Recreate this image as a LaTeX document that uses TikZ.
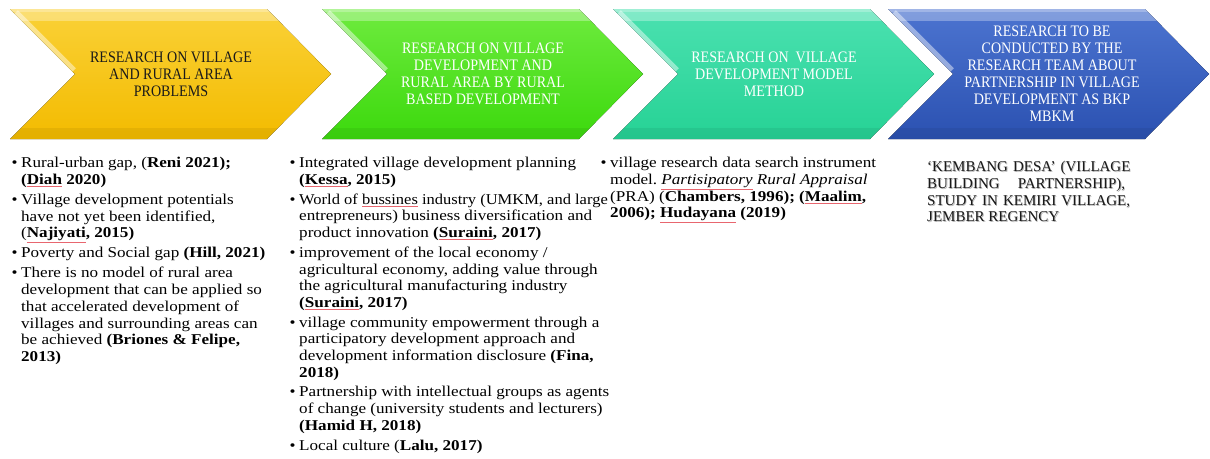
\documentclass[tikz,border=0pt]{standalone}
\usepackage{fontspec}
\setmainfont{Liberation Serif}[FakeStretch=1.14]
\newfontfamily\headfont{Liberation Serif}[FakeStretch=0.88]
\newfontfamily\capsfont{Liberation Serif}[FakeStretch=1.0]
\usepackage{xcolor}
\usepackage{graphicx}
\frenchspacing

% chevron fills
\definecolor{yelTop}{HTML}{FAD137}
\definecolor{yelBot}{HTML}{F3BB00}
\definecolor{grnTop}{HTML}{6EEB3E}
\definecolor{grnBot}{HTML}{3CD90D}
\definecolor{teaTop}{HTML}{4BE1B0}
\definecolor{teaBot}{HTML}{26D295}
\definecolor{bluTop}{HTML}{4C74D0}
\definecolor{bluBot}{HTML}{2B51B1}
\definecolor{inkDark}{HTML}{1A1A1A}
\definecolor{spell}{HTML}{E8666F}

% bullet, hanging indent, spell-check mark
\newcommand\itm{\makebox[9.5pt][l]{\textbullet}}
\newcommand\ind{\hspace*{9.5pt}}
\newcommand\sq[1]{{\color{spell}\underline{\color{black}#1}}}

% one chevron: #1 left x, #2 top colour, #3 bottom colour
\newcommand\chevpath[1]{(#1,9) -- ({#1+257},9) -- ({#1+321},74) -- ({#1+257},139) -- (#1,139) -- ({#1+65},74) -- cycle}
\newcommand\chevron[3]{%
  \fill[top color=#2,bottom color=#3] \chevpath{#1};
  \begin{scope}
    \clip \chevpath{#1};
    \fill[white,opacity=.30] (#1,9) rectangle ({#1+330},21);
    \fill[white,opacity=.25] (#1,9) rectangle ({#1+330},12);
    \draw[white,opacity=.45,line width=5pt] ({#1+6},12) -- ({#1+64},70);
    \fill[black,opacity=.06] (#1,128) rectangle ({#1+330},139);
  \end{scope}}

\begin{document}
\begin{tikzpicture}[x=1pt,y=-1pt,
  headtxt/.style={align=center,inner sep=0pt,
    font=\headfont\fontsize{16}{16.9}\selectfont},
  bodytxt/.style={align=left,inner sep=0pt,anchor=north west,
    font=\fontsize{15}{16.7}\selectfont},
  kdtxt/.style={align=left,inner sep=0pt,anchor=north west,
    font=\capsfont\fontsize{15}{16.7}\selectfont}]
\useasboundingbox[fill=white] (0,0) rectangle (1210,458);

% the four stage chevrons
\chevron{10}{yelTop}{yelBot}
\chevron{322}{grnTop}{grnBot}
\chevron{613}{teaTop}{teaBot}
\chevron{888}{bluTop}{bluBot}

\node[headtxt,text=inkDark] (h1) at (171,74.5)
  {RESEARCH ON VILLAGE\\AND RURAL AREA\\PROBLEMS};
\node[headtxt,text=white] (h2) at (483,73.5)
  {RESEARCH ON VILLAGE\\DEVELOPMENT AND\\RURAL AREA BY RURAL\\BASED DEVELOPMENT};
\node[headtxt,text=white] (h3) at (774,74.5)
  {RESEARCH ON\ \ VILLAGE\\DEVELOPMENT MODEL\\METHOD};
\node[headtxt,text=white] (h4) at (1052,73.5)
  {RESEARCH TO BE\\CONDUCTED BY THE\\RESEARCH TEAM ABOUT\\PARTNERSHIP IN VILLAGE\\DEVELOPMENT AS BKP\\MBKM};

% findings under each stage
\node[bodytxt] (c1) at (11.5,156) {%
\strut\itm Rural-urban gap, (\textbf{Reni 2021);}\\
\ind\textbf{(\sq{Diah} 2020)}\\[3.3pt]
\itm Village development potentials\\
\ind have not yet been identified,\\
\ind(\textbf{\sq{Najiyati}, 2015)}\\[3.3pt]
\itm Poverty and Social gap \textbf{(Hill, 2021)}\\[3.3pt]
\itm There is no model of rural area\\
\ind development that can be applied so\\
\ind that accelerated development of\\
\ind villages and surrounding areas can\\
\ind be achieved \textbf{(Briones \& Felipe,}\\
\ind\textbf{2013)}};

\node[bodytxt] (c2) at (289.5,156) {%
\strut\itm Integrated village development planning\\
\ind\textbf{(\sq{Kessa}, 2015)}\\[3pt]
\itm \scalebox{0.965}[1]{World of \sq{bussines} industry (UMKM, and large}\\
\ind entrepreneurs) business diversification and\\
\ind product innovation \textbf{(\sq{Suraini}, 2017)}\\[3pt]
\itm improvement of the local economy /\\
\ind agricultural economy, adding value through\\
\ind the agricultural manufacturing industry\\
\ind\textbf{(\sq{Suraini}, 2017)}\\[3pt]
\itm village community empowerment through a\\
\ind participatory development approach and\\
\ind development information disclosure \textbf{(Fina,}\\
\ind\textbf{2018)}\\[3pt]
\itm Partnership with intellectual groups as agents\\
\ind of change (university students and lecturers)\\
\ind\textbf{(Hamid H, 2018)}\\[3pt]
\itm Local culture (\textbf{Lalu, 2017)}};

\node[bodytxt] (c3) at (600.5,156) {%
\strut\itm village research data search instrument\\
\ind model. \textit{\sq{Partisipatory} Rural Appraisal}\\
\ind(PRA) (\textbf{Chambers, 1996); (\sq{Maalim},}\\
\ind\textbf{2006); \sq{Hudayana} (2019)}};

% outcome, with a soft text shadow
\newcommand\kdlines{%
\strut\makebox[198pt][s]{‘KEMBANG\ \ DESA’\ \ (VILLAGE}\\
\makebox[198pt][s]{BUILDING PARTNERSHIP),}\\
\makebox[198pt][s]{STUDY\ \ IN\ \ KEMIRI\ \ VILLAGE,}\\
JEMBER REGENCY}
\node[kdtxt,text=black!30] (c4s) at (927.8,160.8) {\kdlines};
\node[kdtxt,text=inkDark] (c4) at (927,160) {\kdlines};
\end{tikzpicture}
\end{document}
